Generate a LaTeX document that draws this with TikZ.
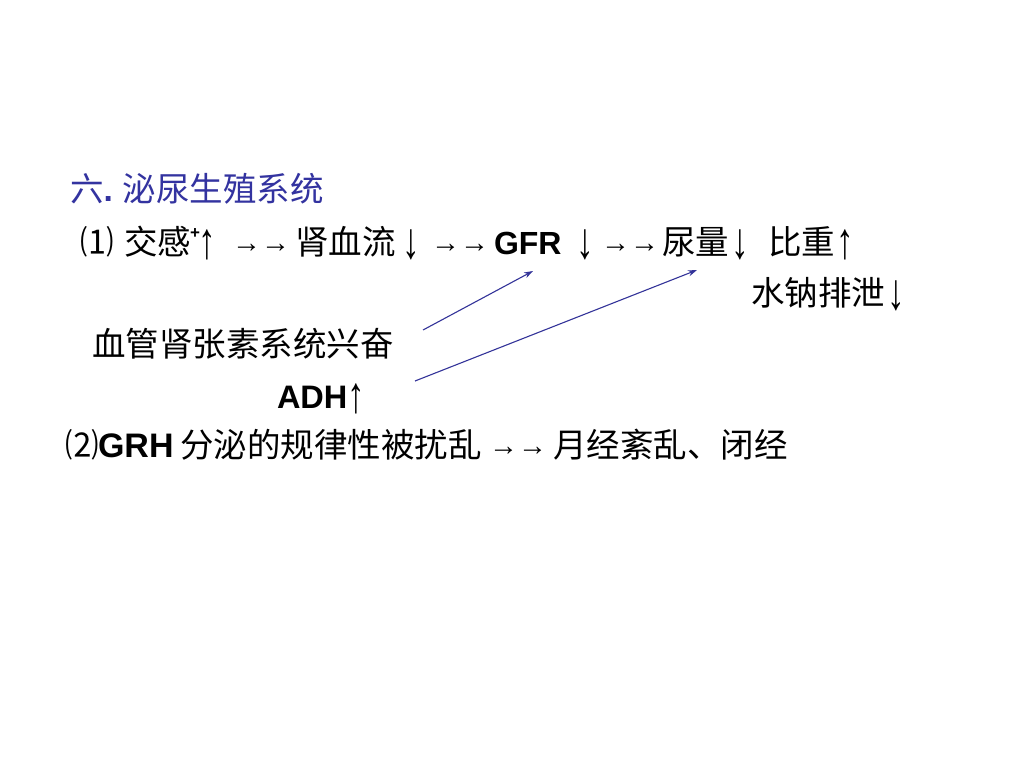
\documentclass[tikz,border=0pt]{standalone}
\usepackage{graphicx}
\usepackage{fontspec}
\setmainfont{Liberation Serif}
\newfontfamily\cjk{Noto Sans CJK SC}
\newfontfamily\hv{Liberation Sans}
\newfontfamily\tm{Liberation Serif}
\usetikzlibrary{arrows.meta}
\definecolor{titleblue}{RGB}{51,51,160}
\definecolor{arrblue}{RGB}{51,51,153}
\newcommand{\uparr}{\raisebox{-4pt}{\scalebox{1.1}[1.6]{\tm ↑}}}
\newcommand{\dnarr}{\raisebox{-4pt}{\scalebox{1.1}[1.6]{\tm ↓}}}
\begin{document}
\begin{tikzpicture}[x=1pt,y=-1pt,
  txt/.style={anchor=base west,inner sep=0pt,outer sep=0pt,font=\fontsize{33.5}{40}\selectfont\cjk},
  arr/.style={txt,font=\fontsize{32}{40}\selectfont\tm},
  lat/.style={txt,font=\fontsize{32}{40}\selectfont\hv\bfseries},
  conn/.style={draw=arrblue,line width=1.1pt,-{Stealth[length=9pt,width=6pt]}}]
\useasboundingbox (0,0) rectangle (1024,768);
\fill[white] (0,0) rectangle (1024,768);
% title
\node[txt,text=titleblue] (title) at (70,201) {六{\hv\bfseries .} 泌尿生殖系统};
% line 1
\node[txt] (n1) at (80,254) {⑴};
\node[txt] (jg) at (124,254) {交感};
\node[txt,font=\fontsize{17}{20}\selectfont\hv\bfseries] (plus) at (190,238) {+};
\node[arr] (up1) at (198,254) {\uparr};
\node[arr,font=\fontsize{29}{40}\selectfont\tm] (ar1) at (232,252) {→→};
\node[txt] (sxl) at (295,254) {肾血流};
\node[arr] (dn1) at (402,254) {\dnarr};
\node[arr,font=\fontsize{29}{40}\selectfont\tm] (ar2) at (431,252) {→→};
\node[lat] (gfr) at (494,254) {GFR};
\node[arr] (dn2) at (576,254) {\dnarr};
\node[arr,font=\fontsize{29}{40}\selectfont\tm] (ar3) at (601,252) {→→};
\node[txt] (nl) at (662,254) {尿量};
\node[arr] (dn3) at (731,254) {\dnarr};
\node[txt] (bz) at (768,254) {比重};
\node[arr] (up2) at (836,254) {\uparr};
% line 2
\node[txt] (sn) at (751,305) {水钠排泄};
\node[arr] (dn4) at (887,305) {\dnarr};
% line 3
\node[txt] (xg) at (92,356) {血管肾张素系统兴奋};
% line 4
\node[lat,font=\fontsize{32.5}{40}\selectfont\hv\bfseries] (adh) at (277,408) {ADH};
\node[arr] (up3) at (347,408) {\uparr};
% line 5
\node[txt] (n2) at (65,457) {⑵};
\node[lat,font=\fontsize{34}{40}\selectfont\hv\bfseries] (grh) at (98,457) {GRH};
\node[txt] (fm) at (180,457) {分泌的规律性被扰乱};
\node[arr,font=\fontsize{29}{40}\selectfont\tm] (ar4) at (489,455) {→→};
\node[txt] (yj) at (553,457) {月经紊乱、闭经};
% connectors
\coordinate (s1) at (423,330);
\coordinate (e1) at (533,271);
\coordinate (s2) at (415,381);
\coordinate (e2) at (697,270);
\draw[conn] (s1) -- (e1);
\draw[conn] (s2) -- (e2);
\end{tikzpicture}
\end{document}
